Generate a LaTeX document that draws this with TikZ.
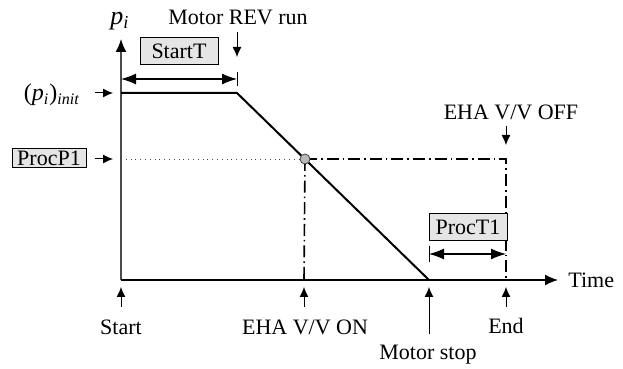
\documentclass[tikz,border=0pt]{standalone}
\usepackage{fontspec}
\setmainfont{Liberation Serif}
\usetikzlibrary{arrows.meta, positioning}

\begin{document}
\begin{tikzpicture}[
    x=0.5pt, y=-0.5pt,
    lbl/.style={font=\fontsize{11}{13}\selectfont, inner sep=1pt},
    pbox/.style={rectangle, draw=black, fill=gray!20, font=\fontsize{11}{13}\selectfont, minimum width=39pt, minimum height=13.5pt, inner sep=1pt},
    axis/.style={-{Latex[length=6.5pt, width=5.5pt, black]}, line width=0.7pt},
    ptr/.style={-{Latex[length=5pt, width=4.5pt]}, line width=0.5pt},
    span/.style={{Latex[length=7.5pt, width=5.5pt]}-{Latex[length=7.5pt, width=5.5pt]}, line width=0.6pt},
    curve/.style={line width=1pt, line join=round},
    dashdot/.style={line width=0.8pt, dash pattern=on 6pt off 2pt on 0.8pt off 2pt}
]
\useasboundingbox (0,0) rectangle (623,369);

% points of the pressure profile
\coordinate (O) at (121,280);
\coordinate (init) at (121,93);
\coordinate (knee) at (237,93);
\coordinate (cross) at (305,159);
\coordinate (lvl) at (121,159);
\coordinate (vvon) at (304,280);
\coordinate (mstop) at (429,280);
\coordinate (vvoff) at (506,159);
\coordinate (fin) at (506,280);
\coordinate (ytop) at (121,39);
\coordinate (xend) at (558,280);

% axes
\draw[axis, draw=gray!60!black] (O) -- (ytop);
\draw[axis] (O) -- (xend);
\node[lbl, right=4pt of xend] (time) {Time};
\node[lbl, font=\fontsize{13}{15}\selectfont] (pi) at (120,21) {\textit{p}\textsubscript{\textit{i}}};

% process level and valve window
\draw[dotted, gray!60!black, line width=0.4pt] (lvl) -- (cross);
\draw[dashdot] (cross) -- (vvon);
\draw[dashdot] (cross) -- (vvoff) -- (fin);
\draw[curve] (init) -- (knee) -- (mstop);
\node[circle, draw=gray!50!black, fill=gray!55, inner sep=0pt, minimum size=5pt] (dot) at (cross) {};

% StartT span
\coordinate (st0) at (121,79);
\coordinate (st1) at (237,79);
\draw[span] (st0) -- (st1);
\draw[line width=0.5pt] ([yshift=3.5pt]st1) -- ([yshift=-3.5pt]st1);
\node[pbox] (startT) at (179,51) {StartT};

% ProcT1 span
\coordinate (pt0) at (429,254);
\coordinate (pt1) at (506,254);
\draw[span] (pt0) -- (pt1);
\draw[line width=0.5pt] ([yshift=4pt]pt0) -- ([yshift=-4pt]pt0);
\node[pbox] (procT) at (468,227) {ProcT1};

% left labels
\node[lbl, font=\fontsize{12}{14}\selectfont] (pinit) at (52,95) {(\textit{p}\textsubscript{\textit{i}})\textsubscript{\textit{init}}};
\coordinate (pinitA) at (95,93);
\coordinate (pinitB) at (113,93);
\draw[ptr] (pinitA) -- (pinitB);
\node[pbox, minimum width=37pt, minimum height=9.5pt] (procP) at (49,158) {ProcP1};
\coordinate (procPA) at (95,159);
\coordinate (procPB) at (113,159);
\draw[ptr] (procPA) -- (procPB);

% top labels
\node[lbl] (mrev) at (238,17) {Motor REV run};
\coordinate (mrevA) at (237,32);
\coordinate (mrevB) at (237,57);
\draw[ptr] (mrevA) -- (mrevB);
\node[lbl] (ehaoff) at (511,112) {EHA V/V OFF};
\coordinate (ehaoffA) at (506,126);
\coordinate (ehaoffB) at (506,145);
\draw[ptr] (ehaoffA) -- (ehaoffB);

% bottom labels
\node[lbl] (start) at (121,327) {Start};
\coordinate (startA) at (121,307);
\coordinate (startB) at (121,287);
\draw[ptr] (startA) -- (startB);
\node[lbl] (ehaon) at (305,327) {EHA V/V ON};
\coordinate (ehaonA) at (304,307);
\coordinate (ehaonB) at (304,287);
\draw[ptr] (ehaonA) -- (ehaonB);
\node[lbl] (mstoplbl) at (428,355) {Motor stop};
\coordinate (mstopA) at (429,334);
\coordinate (mstopB) at (429,287);
\draw[ptr] (mstopA) -- (mstopB);
\node[lbl] (end) at (506,326) {End};
\coordinate (endA) at (506,307);
\coordinate (endB) at (506,287);
\draw[ptr] (endA) -- (endB);

\end{tikzpicture}
\end{document}
